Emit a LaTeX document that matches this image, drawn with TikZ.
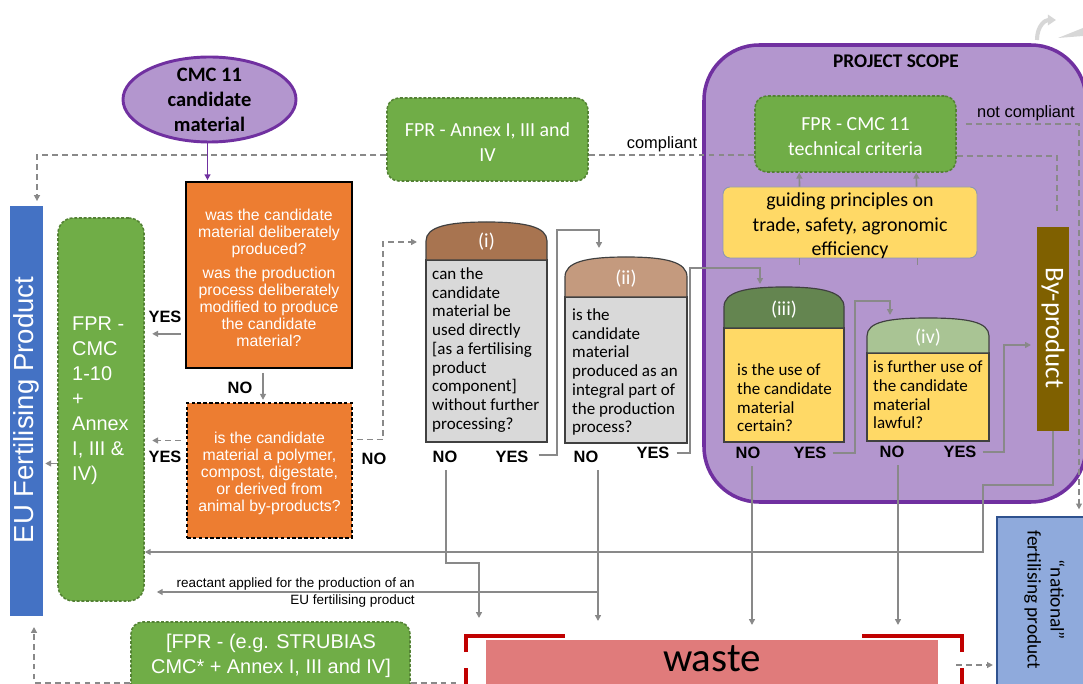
\documentclass[tikz,border=0pt]{standalone}
\usepackage{fontspec}
\setmainfont{Liberation Sans}
\newfontfamily\calibri{Carlito}
\usetikzlibrary{arrows.meta,fit,shapes.geometric,calc}
\definecolor{lpurple}{RGB}{179,150,206}
\definecolor{dpurple}{RGB}{112,48,160}
\definecolor{orng}{RGB}{237,125,49}
\definecolor{fgreen}{RGB}{112,173,71}
\definecolor{dgreen}{RGB}{84,130,53}
\definecolor{eublue}{RGB}{68,114,196}
\definecolor{yel}{RGB}{255,217,102}
\definecolor{lgray}{RGB}{217,217,217}
\definecolor{brA}{RGB}{168,116,80}
\definecolor{brB}{RGB}{196,154,126}
\definecolor{grC}{RGB}{100,133,80}
\definecolor{grD}{RGB}{169,196,148}
\definecolor{bprod}{RGB}{127,96,0}
\definecolor{natblue}{RGB}{143,170,220}
\definecolor{natedge}{RGB}{47,82,143}
\definecolor{gpedge}{RGB}{140,150,180}
\definecolor{wastered}{RGB}{224,123,123}
\definecolor{frred}{RGB}{192,0,0}
\definecolor{cgray}{RGB}{137,137,137}
\definecolor{icongray}{RGB}{215,215,215}
\newcommand\fs[2]{\fontsize{#1}{#2}\selectfont}
\begin{document}
\begin{tikzpicture}[x=0.03cm,y=-0.03cm,
  conn/.style={draw=cgray,line width=1.4pt,-{Triangle[length=5pt,width=5pt]}},
  cline/.style={draw=cgray,line width=1.4pt},
  dconn/.style={draw=cgray,line width=1.4pt,dash pattern=on 5pt off 3.5pt,-{Triangle[length=5pt,width=5pt]}},
  dline/.style={draw=cgray,line width=1.4pt,dash pattern=on 5pt off 3.5pt},
  gbox/.style={fill=fgreen,draw=dgreen,line width=1.3pt,dash pattern=on 2.5pt off 1.5pt,rounded corners=10pt,inner sep=0pt},
  gtext/.style={text=white,align=center,font=\calibri\fs{17}{21.3}},
  obox/.style={fill=orng,draw=black,line width=1.4pt,inner sep=0pt},
  otext/.style={text=white,align=center,font=\fs{13.5}{14.5}},
  qbody/.style={draw=black!75,line width=1pt,inner sep=0pt},
  qtext/.style={anchor=west,align=left,inner sep=0pt,font=\calibri\fs{14.5}{16}},
  caplbl/.style={text=white,font=\calibri\fs{17}{20}},
  capshape/.style={draw=black!75,line width=1pt},
  yn/.style={font=\bfseries\fs{14}{16},inner sep=0pt},
  redfr/.style={draw=frred,line width=2.6pt}
]
\useasboundingbox (0,0) rectangle (1083,684);

% decorative icon
\draw[icongray,line width=3.5pt,-{Triangle[length=7pt,width=9pt]}] (1037,40) .. controls (1037,26) and (1045,20) .. (1056,20);
\fill[icongray] (1058,38) -- (1083,28) -- (1083,36) -- cycle;

% project scope
\node[fill=lpurple,draw=dpurple,line width=3pt,rounded corners=47pt,fit={(704,45)(1086,502)},inner sep=0pt] (scope) {};
\node[font=\calibri\bfseries\fs{16.5}{18}] (scopelbl) at (896,61) {PROJECT SCOPE};

% candidate ellipse
\node[ellipse,fill=lpurple,draw=dpurple,line width=2.5pt,minimum width=5.19cm,minimum height=2.55cm,inner sep=0pt] (cmc) at (209.5,99.5) {};
\node[font=\calibri\bfseries\fs{17.5}{21.3},align=center] (cmctxt) at (cmc.center) {CMC 11\\candidate\\material};

% orange questions
\node[obox,fit={(186,182)(352,368)}] (q1) {};
\node[otext] (q1txt) at (269,277.5) {was the candidate\\material deliberately\\produced?\\[6pt]was the production\\process deliberately\\modified to produce\\the candidate\\material?};
\node[obox,dash pattern=on 3pt off 2pt,fit={(187,403)(352,538)}] (q2) {};
\node[otext] (q2txt) at (269.5,473.5) {is the candidate\\material a polymer,\\compost, digestate,\\or derived from\\animal by-products?};

% EU side
\node[gbox,rounded corners=13pt,fit={(58,218)(144,601)}] (fprbig) {};
\node[text=white,align=left,anchor=west,inner sep=0pt,font=\fs{17}{21.3}] (fprbigtxt) at (72,401) {FPR -\\CMC\\1-10\\+\\Annex\\I, III \&\\IV)};
\node[fill=eublue,inner sep=0pt,fit={(10,206)(43,616)}] (eu) {};
\node[rotate=90,text=white,font=\fs{23.5}{26}] (eutxt) at (26.5,410) {EU Fertilising Product};

% green boxes
\node[gbox,fit={(387,98)(588,181)}] (annex) {};
\node[gtext] (annextxt) at (487.5,142) {FPR - Annex I, III and\\IV};
\node[gbox,fit={(755,96)(956,172)}] (cmc11) {};
\node[gtext] (cmc11txt) at (855.5,136.5) {FPR - CMC 11\\technical criteria};
\node[fill=yel,draw=gpedge,line width=0.8pt,rounded corners=6pt,inner sep=0pt,fit={(723,187)(977,258)}] (gp) {};
\node[align=center,font=\calibri\fs{17}{21}] (gptxt) at (850,226) {guiding principles on\\trade, safety, agronomic\\efficiency};

% by-product
\node[fill=bprod,inner sep=0pt,fit={(1037,227)(1069,431)}] (bp) {};
\node[rotate=-90,text=white,font=\calibri\fs{23}{26}] (bptxt) at (1053,328) {By-product};

% (i)
\node[qbody,fill=lgray,fit={(426,260)(547,442)}] (b1) {};
\draw[capshape,fill=brA] (426,260) -- (426,241) .. controls (426,227) and (447,222) .. (486.5,222) .. controls (526,222) and (547,227) .. (547,241) -- (547,260) -- cycle;
\node[caplbl] (l1) at (486.5,242) {(i)};
\node[qtext] (t1) at (432,350) {can the\\candidate\\material be\\used directly\\{[}as a fertilising\\product\\component]\\without further\\processing?};

% (ii)
\node[qbody,fill=lgray,fit={(565,297)(687,443)}] (b2) {};
\draw[capshape,fill=brB] (565,297) -- (565,277) .. controls (565,262) and (586,257) .. (626,257) .. controls (666,257) and (687,262) .. (687,277) -- (687,297) -- cycle;
\node[caplbl] (l2) at (626,279) {(ii)};
\node[qtext] (t2) at (572,372) {is the\\candidate\\material\\produced as an\\integral part of\\the production\\process?};

% (iii)
\node[qbody,fill=yel,fit={(724,328)(844,442)}] (b3) {};
\draw[capshape,fill=grC] (724,328) -- (724,307) .. controls (724,292) and (745,287) .. (784,287) .. controls (823,287) and (844,292) .. (844,307) -- (844,328) -- cycle;
\node[caplbl] (l3) at (784,310) {(iii)};
\node[qtext] (t3) at (737,398) {is the use of\\the candidate\\material\\certain?};

% (iv)
\node[qbody,fill=yel,fit={(867,353)(989,441)}] (b4) {};
\draw[capshape,fill=grD] (867,353) -- (867,336) .. controls (867,322) and (888,318) .. (928,318) .. controls (968,318) and (989,322) .. (989,336) -- (989,353) -- cycle;
\node[caplbl] (l4) at (928,338) {(iv)};
\node[qtext] (t4) at (873,395) {is further use of\\the candidate\\material\\lawful?};

% YES / NO labels
\node[yn] (yA) at (165,317) {YES};
\node[yn] (yB) at (165,457) {YES};
\node[yn] (nA) at (240,388) {NO};
\node[yn] (nB) at (374,459) {NO};
\node[yn] (n1) at (445,457) {NO};
\node[yn] (y1) at (512,457) {YES};
\node[yn] (n2) at (586,457) {NO};
\node[yn] (y2) at (653,453) {YES};
\node[yn] (n3) at (748,453) {NO};
\node[yn] (y3) at (810,453) {YES};
\node[yn] (n4) at (892,452) {NO};
\node[yn] (y4) at (960,452) {YES};

% text labels
\node[font=\fs{14}{16},inner sep=0pt] (compl) at (662,144) {compliant};
\node[font=\fs{14}{16},inner sep=0pt] (ncompl) at (1026,113) {not compliant};
\node[font=\fs{11.5}{14.5},align=right,anchor=east,inner sep=0pt] (react) at (415,593) {reactant applied for the production of an\\EU fertilising product};

% bottom boxes
\node[gbox,fit={(131,622)(410,700)}] (g2) {};
\node[text=white,align=center,font=\fs{17}{21.3}] (g2txt) at (271,656) {{[}FPR - (e.g. STRUBIAS\\CMC* + Annex I, III and IV]};
\node[fill=wastered,inner sep=0pt,fit={(486,640)(938,700)}] (waste) {};
\node[font=\calibri\fs{35}{38},inner sep=0pt] (wastetxt) at (712,659) {waste};
\draw[redfr] (466,652) -- (466,636) -- (565,636);
\draw[redfr] (962,652) -- (962,636) -- (862,636);
\draw[redfr] (466,668) -- (466,690);
\draw[redfr] (962,668) -- (962,690);
\node[fill=natblue,draw=natedge,line width=1pt,inner sep=0pt,fit={(997,517)(1100,700)}] (nat) {};
\node[rotate=-90,align=center,font=\calibri\fs{16.5}{19.6}] (nattxt) at (1044.5,600) {“national”\\fertilising product};

% ---------- connectors ----------
\coordinate (eutop) at (37,155);
\draw[dline] ($(cmc11.west)+(0,21)$) -- ($(annex.east)+(0,15.5)$);
\draw[dconn,shorten >=4pt] ($(annex.west)+(0,15.5)$) -- (eutop) -- (eutop |- eu.north);
\coordinate (bptop) at (1057,213);
\draw[dline] ($(cmc11.east)+(0,22)$) -| (bptop);
\coordinate (ncx) at (1079,124);
\draw[dconn,shorten >=6pt] ($(cmc11.east)+(9,-10)$) -- (ncx) -- (ncx |- nat.north);

\draw[conn] ($(gp.north west)+(77,0)$) -- ($(cmc11.south west)+(45,0)$);
\draw[conn] ($(gp.north west)+(194,0)$) -- ($(cmc11.south west)+(162,0)$);
\draw[cline] ($(gp.south west)+(77,0)$) -- ++(0,7);
\draw[cline] ($(gp.south west)+(195,0)$) -- ++(0,7);

\draw[draw=dpurple,line width=1.4pt,-{Triangle[length=5pt,width=5pt]}] ($(cmc.south)+(-2,0)$) -- ($(cmc.south |- q1.north)+(-2,-1)$);

\draw[conn] ($(q1.south west)+(-4,-35)$) -- ++(-29,0);
\draw[conn] ($(q1.south)+(-6,4)$) -- ++(0,27);
\draw[dconn] ($(q2.west)+(-5,-30)$) -- ++(-29,0);
\coordinate (c1in) at (417,242);
\draw[dconn] ($(q2.east)+(4,-31)$) -| (383,242) -- (c1in);

\coordinate (c2in) at (599,248);
\draw[conn] ($(y1.east)+(10,-2)$) -| (557,230) -| (c2in);
\coordinate (c3in) at (760,284);
\draw[conn] ($(y2.east)+(7,0)$) -| (690,268) -| (c3in);
\coordinate (c4in) at (890,315);
\draw[conn] ($(y3.east)+(6,0)$) -| (855,301) -| (c4in);
\coordinate (bpin) at (1031,345);
\draw[conn] ($(y4.east)+(6,0)$) -| (1004,345) -- (bpin);

\coordinate (w1) at (479,618);
\draw[conn] ($(n1.south)+(1,7)$) |- (479,563) -- (w1);
\coordinate (w2) at (598,621);
\draw[conn] ($(n2.south)+(12,7)$) -- (w2);
\coordinate (rj) at (598,592);
\draw[conn] (rj) -- ($(fprbig.east |- rj)+(12,0)$);
\coordinate (w3) at (752,625);
\draw[conn] ($(n3.south)+(4,7)$) -- (w3);
\coordinate (w4) at (898,625);
\draw[conn] ($(n4.south)+(6,7)$) -- (w4);

\coordinate (byl) at (983,552);
\draw[conn] (bp.south) |- (983,485) -- (byl) -- (fprbig.east |- byl);

\draw[dconn] ($(fprbig.west)+(0,54)$) -- ++(-12,0);
\coordinate (eub) at (34,627);
\draw[dconn] ($(g2.south west)+(0,-18)$) -| (eub);
\draw[dline] ($(g2.south east)+(0,-18)$) -- ++(45,0);
\coordinate (wr) at (956,665);
\draw[dconn,shorten >=3pt] (wr) -- (wr -| nat.west);
\end{tikzpicture}
\end{document}
